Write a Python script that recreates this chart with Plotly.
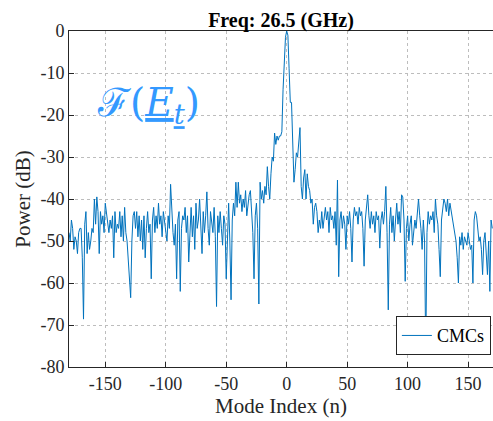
import plotly.graph_objects as go

# Mode indices and power (dB)
mode_start = -180
mode_end = 170
power_db = [
    -48, -50, -45, -47, -52, -49, -50, -53, -48, -47,
    -47, -54, -68.6, -46, -43, -53, -48, -52, -50, -47,
    -48, -40, -46, -39.5, -43, -53, -43, -46, -44, -48,
    -41, -43, -45, -48, -45, -47, -44, -54, -43, -48,
    -46, -47, -43, -49, -44, -50, -42, -48, -50, -55,
    -57, -63.5, -50, -44, -43, -47, -43, -49, -44, -50,
    -45, -52, -44, -54, -47, -43, -48, -46, -59, -45,
    -42, -48, -44, -47, -41, -46, -44, -49, -43, -45,
    -47, -50, -44, -47, -36.5, -44, -48, -51, -46, -59,
    -45, -43, -62, -47, -44, -45, -42, -48, -44, -55,
    -46, -42, -49, -44, -52, -41, -47, -45, -40, -46,
    -53, -43, -48, -44, -38.3, -47, -51, -43, -45, -48,
    -42, -49, -65.6, -44, -48, -43, -47, -51, -44, -46,
    -59, -47, -41, -50, -64, -45, -41, -44, -36, -42,
    -36, -41, -39, -43, -40, -42, -38, -44, -41, -39,
    -38, -43, -48, -59, -44, -41, -47, -65, -36, -40,
    -38, -41, -37, -39, -32.3, -37, -40, -34, -30, -31,
    -24.3, -27, -25, -26, -25, -25, -24, -14, -6, -1.5,
    0,
    -1, -9, -17, -17, -28, -36, -33, -29, -30, -27,
    -23, -37, -40, -35, -33, -40, -34, -37, -38, -41,
    -40, -46, -42, -41, -43, -48, -45, -47, -43, -47,
    -44, -42, -45, -43, -48, -42, -45, -44, -47, -43,
    -51, -35.5, -58.5, -45, -43, -47, -44, -46, -52, -44,
    -46, -43, -47, -55, -45, -42, -44, -43, -46, -42,
    -44, -43, -47, -56, -45, -42, -39, -44, -47, -43,
    -46, -44, -48, -43, -45, -44, -51.7, -45, -43, -46,
    -43, -37, -48, -66.4, -46, -42, -48, -44, -50, -45,
    -41, -46, -43, -48, -39, -39.5, -45, -59.6, -47, -44,
    -50, -46, -44, -51, -48, -45, -47, -42, -40, -44,
    -47, -52, -45, -50, -77, -48, -43, -46, -44, -45,
    -43, -48, -40, -44, -46, -52, -58.5, -45, -43, -40,
    -41, -43, -40, -44, -41, -43, -44, -46, -48, -50,
    -54, -60, -49, -51, -48, -52, -49, -50, -51, -48,
    -50, -52, -51, -60, -45, -43, -44, -48, -50, -49,
    -52, -58, -50, -48, -53, -58, -50, -62, -45, -47,
]
modes = list(range(mode_start, mode_end + 1))
assert len(modes) == len(power_db)

x_ticks = [-150, -100, -50, 0, 50, 100, 150]
y_ticks = [0, -10, -20, -30, -40, -50, -60, -70, -80]

serif = "Liberation Serif"

fig = go.Figure()
fig.add_trace(go.Scatter(
    x=modes, y=power_db, mode="lines", name="CMCs",
    line=dict(color="#0072BD", width=1),
))

axis_common = dict(
    showline=True, linecolor="#262626", linewidth=1, mirror=True,
    ticks="inside", ticklen=5, tickcolor="#262626",
    showgrid=True, gridcolor="#bdbdbd", griddash="dot", gridwidth=1,
    zeroline=False,
    tickfont=dict(family=serif, size=18, color="#262626"),
)

fig.update_layout(
    width=493, height=421,
    margin=dict(l=69, r=0, t=31, b=54),
    paper_bgcolor="white", plot_bgcolor="white",
    title=dict(
        text="<b>Freq: 26.5 (GHz)</b>",
        font=dict(family=serif, size=20, color="black"),
        x=0.5, xref="paper", xanchor="center",
        y=1, yref="paper", yanchor="bottom", pad=dict(b=4),
    ),
    xaxis=dict(
        range=[-180, 170.6], tickvals=x_ticks,
        ticktext=[str(v) for v in x_ticks],
        title=dict(text="Mode Index (n)", font=dict(family=serif, size=21, color="#262626"), standoff=3),
        **axis_common,
    ),
    yaxis=dict(
        range=[-80, 0], tickvals=y_ticks,
        ticktext=[str(v) for v in y_ticks],
        title=dict(text="Power (dB)", font=dict(family=serif, size=21, color="#262626"), standoff=4),
        **axis_common,
    ),
    showlegend=True,
    legend=dict(
        x=0.995, y=0.035, xanchor="right", yanchor="bottom",
        bgcolor="white", bordercolor="#262626", borderwidth=1,
        font=dict(family=serif, size=18, color="black"),
        itemwidth=30, tracegroupgap=0,
    ),
    annotations=[dict(
        text="ℱ(<u><i>E</i><sub><i>t</i></sub></u>)",
        x=0.062, y=0.78, xref="paper", yref="paper",
        xanchor="left", yanchor="middle", showarrow=False,
        font=dict(family="DejaVu Serif", size=39, color="#3399FF"),
    )],
)

fig.write_html("out.html")
